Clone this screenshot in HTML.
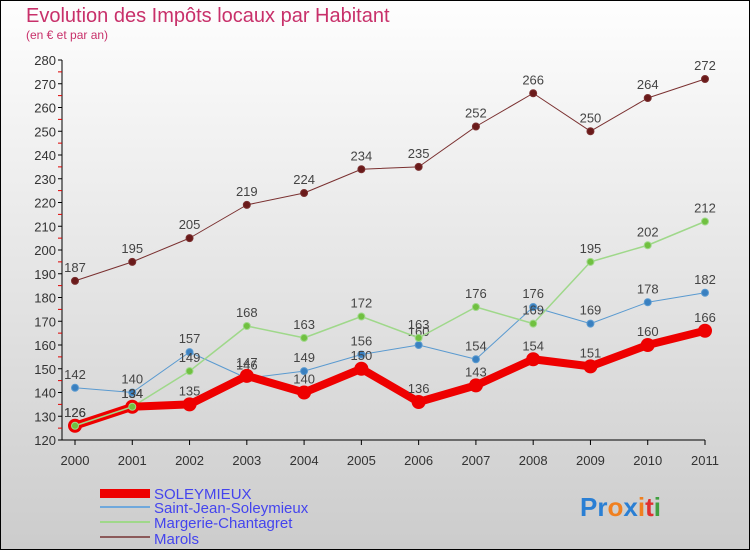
<!DOCTYPE html>
<html><head><meta charset="utf-8"><style>
body{margin:0}
#c{width:750px;height:550px;position:relative;font-family:"Liberation Sans",sans-serif}
</style></head><body>
<div id="c">
<svg id="s" width="750" height="550" xmlns="http://www.w3.org/2000/svg">
<defs><linearGradient id="bg" x1="0" y1="0" x2="0" y2="1"><stop offset="0" stop-color="#fefefe"/><stop offset="1" stop-color="#cccccc"/></linearGradient></defs>
<rect x="0.5" y="0.5" width="749" height="549" fill="url(#bg)" stroke="#000"/>
<text x="26" y="22" font-size="20" fill="#c8306a">Evolution des Impôts locaux par Habitant</text>
<text x="26" y="39" font-size="12" fill="#c8306a">(en € et par an)</text>
<g id="axes"></g><g id="series"></g>
<g>
<rect x="100" y="489" width="50" height="9" fill="#e00"/>
<text x="154" y="499" font-size="15" fill="#4444ee">SOLEYMIEUX</text>
<line x1="100" y1="507" x2="150" y2="507" stroke="#6fa8dc" stroke-width="2"/>
<text x="154" y="513" font-size="15" fill="#4444ee">Saint-Jean-Soleymieux</text>
<line x1="100" y1="522" x2="150" y2="522" stroke="#9fd88a" stroke-width="2"/>
<text x="154" y="528" font-size="15" fill="#4444ee">Margerie-Chantagret</text>
<line x1="100" y1="537" x2="150" y2="537" stroke="#8b5a5a" stroke-width="2"/>
<text x="154" y="544" font-size="15" fill="#4444ee">Marols</text>
</g>
<text x="580" y="516" font-size="26" font-weight="bold"><tspan fill="#2a7fd4">Pr</tspan><tspan fill="#f08020">o</tspan><tspan fill="#2a7fd4">x</tspan><tspan fill="#f08020">i</tspan><tspan fill="#e03030">t</tspan><tspan fill="#40a040">i</tspan></text>
</svg></div>
<script>
const years=[2000,2001,2002,2003,2004,2005,2006,2007,2008,2009,2010,2011];
const yTicks=[120,130,140,150,160,170,180,190,200,210,220,230,240,250,260,270,280];
const soleymieux=[126,134,135,147,140,150,136,143,154,151,160,166];
const saintJean=[142,140,157,146,149,156,160,154,176,169,178,182];
const margerie=[126,134,149,168,163,172,163,176,169,195,202,212];
const marols=[187,195,205,219,224,234,235,252,266,250,264,272];
const NS="http://www.w3.org/2000/svg";
const X=i=>75+i*(630/11);
const Y=v=>440-(v-120)*380/160;
function mk(t,a,p){const e=document.createElementNS(NS,t);for(const k in a)e.setAttribute(k,a[k]);p.appendChild(e);return e;}
const ax=document.getElementById('axes');
const yl=mk('line',{x1:62,y1:60,x2:62,y2:440,stroke:'#000'},ax);


const xl=mk('line',{x1:62,y1:440,x2:705,y2:440,stroke:'#000'},ax);


yTicks.forEach(v=>{mk('line',{x1:58,y1:Y(v),x2:62,y2:Y(v),stroke:'#000'},ax);
 if(v<280)mk('line',{x1:58,y1:Y(v+5),x2:62,y2:Y(v+5),stroke:'#d00'},ax);
 const t=mk('text',{x:56,y:Y(v)+5,'font-size':13,'text-anchor':'end',fill:'#333'},ax);t.textContent=v;
 
 });
years.forEach((y,i)=>{mk('line',{x1:X(i),y1:440,x2:X(i),y2:445,stroke:'#000'},ax);
 const t=mk('text',{x:X(i),y:465,'font-size':13,'text-anchor':'middle',fill:'#333'},ax);t.textContent=y;
 
 });
const sg=document.getElementById('series');
function series(d,col,w,r,fill,name){
 const g=mk('g',{},sg);
 
 
 mk('polyline',{points:d.map((v,i)=>X(i)+','+Y(v)).join(' '),fill:'none',stroke:col,'stroke-width':w,'stroke-linejoin':'round'},g);
 d.forEach((v,i)=>{const c=mk('circle',{cx:X(i),cy:Y(v),r:r,fill:fill,stroke:col,'stroke-width':w>3?0:1},g);
  
  
  const t=mk('text',{x:X(i),y:Y(v)-9,'font-size':13,'text-anchor':'middle',fill:'#444'},g);t.textContent=v;
  
  });
}
series(marols,'#7a3030',1,3.5,'#6a1a1a','marols');
series(saintJean,'#5a9ad0',1,3.5,'#3a80c0','saint-jean');
series(margerie,'#9fd88a',1.5,3.5,'#70c040','margerie');
series(soleymieux,'#ee0000',8,7,'#ee0000','soleymieux');
series(margerie.slice(0,2),'#9fd88a',1.5,3.5,'#70c040','margerie-overlay');
</script>
</body></html>
